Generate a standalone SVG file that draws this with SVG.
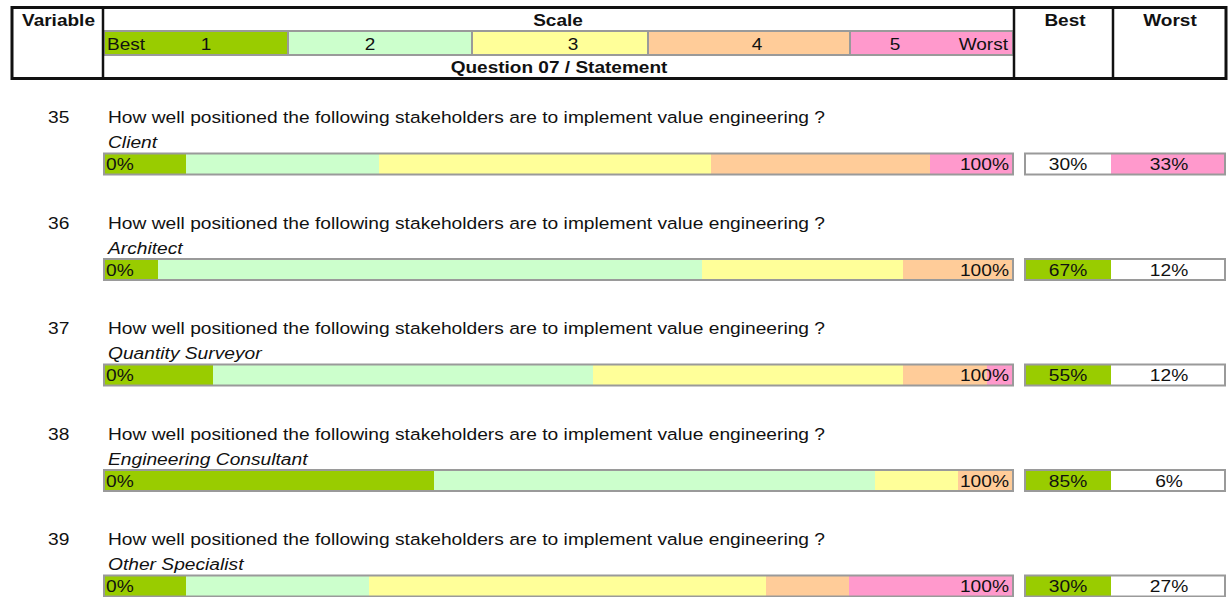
<svg xmlns="http://www.w3.org/2000/svg" width="1228" height="597" viewBox="0 0 1228 597">
  <style>
    .t{font-family:"Liberation Sans",Arial,sans-serif;font-size:17px;fill:#111}
    .b{font-weight:bold}
    .i{font-style:italic}
    .m{text-anchor:middle}
    .e{text-anchor:end}
    .frame{fill:none;stroke:#9a9a9a;stroke-width:2}
    .sep{stroke:#9a9a9a;stroke-width:2}
    .c1{fill:#99cc00}
    .c2{fill:#ccffcc}
    .c3{fill:#ffff99}
    .c4{fill:#ffcc99}
    .c5{fill:#ff99cc}
    .w{fill:#ffffff}
  </style>
  <rect width="1228" height="597" fill="#ffffff"/>

  <!-- header table -->
  <g id="header">
    <rect class="c1" x="103" y="31" width="185" height="24"/>
    <rect class="c2" x="288" y="31" width="184" height="24"/>
    <rect class="c3" x="472" y="31" width="176" height="24"/>
    <rect class="c4" x="648" y="31" width="202" height="24"/>
    <rect class="c5" x="850" y="31" width="164" height="24"/>
    <rect class="frame" x="104" y="31" width="909" height="24"/>
    <line class="sep" x1="288" y1="31" x2="288" y2="55"/>
    <line class="sep" x1="472" y1="31" x2="472" y2="55"/>
    <line class="sep" x1="648" y1="31" x2="648" y2="55"/>
    <line class="sep" x1="850" y1="31" x2="850" y2="55"/>
    <rect x="12" y="7.5" width="1214" height="71" fill="none" stroke="#111" stroke-width="3"/>
    <line x1="103" y1="7" x2="103" y2="79" stroke="#111" stroke-width="2.5"/>
    <line x1="1014" y1="7" x2="1014" y2="79" stroke="#111" stroke-width="2.5"/>
    <line x1="1113" y1="7" x2="1113" y2="79" stroke="#111" stroke-width="2.5"/>
    <text class="t b" transform="translate(22,26) scale(1.12,1)">Variable</text>
    <text class="t b m" transform="translate(558,26) scale(1.12,1)">Scale</text>
    <text class="t b m" transform="translate(559,73) scale(1.12,1)">Question 07 / Statement</text>
    <text class="t b m" transform="translate(1065,26) scale(1.12,1)">Best</text>
    <text class="t b m" transform="translate(1170,26) scale(1.12,1)">Worst</text>
    <text class="t" transform="translate(107,50) scale(1.12,1)">Best</text>
    <text class="t m" transform="translate(206,50) scale(1.12,1)">1</text>
    <text class="t m" transform="translate(370,50) scale(1.12,1)">2</text>
    <text class="t m" transform="translate(573,50) scale(1.12,1)">3</text>
    <text class="t m" transform="translate(757,50) scale(1.12,1)">4</text>
    <text class="t m" transform="translate(895,50) scale(1.12,1)">5</text>
    <text class="t e" transform="translate(1008,50) scale(1.12,1)">Worst</text>
  </g>

  <!-- question 35 -->
  <g id="row35">
    <text class="t" transform="translate(48,123) scale(1.13,1)">35</text>
    <text class="t" transform="translate(108,123) scale(1.13,1)">How well positioned the following stakeholders are to implement value engineering ?</text>
    <text class="t i" transform="translate(108,148) scale(1.13,1)">Client</text>
    <rect class="c1" x="103" y="153.5" width="83" height="21"/>
    <rect class="c2" x="186" y="153.5" width="193" height="21"/>
    <rect class="c3" x="379" y="153.5" width="332" height="21"/>
    <rect class="c4" x="711" y="153.5" width="219" height="21"/>
    <rect class="c5" x="930" y="153.5" width="84" height="21"/>
    <rect class="frame" x="104" y="153.5" width="909" height="21"/>
    <text class="t" transform="translate(106,170) scale(1.13,1)">0%</text>
    <text class="t e" transform="translate(1009,170) scale(1.13,1)">100%</text>
    <rect class="w" x="1025" y="153.5" width="86" height="21"/>
    <rect class="c5" x="1111" y="153.5" width="114" height="21"/>
    <rect class="frame" x="1025" y="153.5" width="200" height="21"/>
    <text class="t m" transform="translate(1068,170) scale(1.13,1)">30%</text>
    <text class="t m" transform="translate(1169,170) scale(1.13,1)">33%</text>
  </g>

  <!-- question 36 -->
  <g id="row36" transform="translate(0,105.5)">
    <text class="t" transform="translate(48,123) scale(1.13,1)">36</text>
    <text class="t" transform="translate(108,123) scale(1.13,1)">How well positioned the following stakeholders are to implement value engineering ?</text>
    <text class="t i" transform="translate(108,148) scale(1.13,1)">Architect</text>
    <rect class="c1" x="103" y="153.5" width="55" height="21"/>
    <rect class="c2" x="158" y="153.5" width="544" height="21"/>
    <rect class="c3" x="702" y="153.5" width="201" height="21"/>
    <rect class="c4" x="903" y="153.5" width="111" height="21"/>
    <rect class="frame" x="104" y="153.5" width="909" height="21"/>
    <text class="t" transform="translate(106,170) scale(1.13,1)">0%</text>
    <text class="t e" transform="translate(1009,170) scale(1.13,1)">100%</text>
    <rect class="c1" x="1025" y="153.5" width="86" height="21"/>
    <rect class="w" x="1111" y="153.5" width="114" height="21"/>
    <rect class="frame" x="1025" y="153.5" width="200" height="21"/>
    <text class="t m" transform="translate(1068,170) scale(1.13,1)">67%</text>
    <text class="t m" transform="translate(1169,170) scale(1.13,1)">12%</text>
  </g>

  <!-- question 37 -->
  <g id="row37" transform="translate(0,211)">
    <text class="t" transform="translate(48,123) scale(1.13,1)">37</text>
    <text class="t" transform="translate(108,123) scale(1.13,1)">How well positioned the following stakeholders are to implement value engineering ?</text>
    <text class="t i" transform="translate(108,148) scale(1.13,1)">Quantity Surveyor</text>
    <rect class="c1" x="103" y="153.5" width="110" height="21"/>
    <rect class="c2" x="213" y="153.5" width="380" height="21"/>
    <rect class="c3" x="593" y="153.5" width="310" height="21"/>
    <rect class="c4" x="903" y="153.5" width="84" height="21"/>
    <rect class="c5" x="987" y="153.5" width="27" height="21"/>
    <rect class="frame" x="104" y="153.5" width="909" height="21"/>
    <text class="t" transform="translate(106,170) scale(1.13,1)">0%</text>
    <text class="t e" transform="translate(1009,170) scale(1.13,1)">100%</text>
    <rect class="c1" x="1025" y="153.5" width="86" height="21"/>
    <rect class="w" x="1111" y="153.5" width="114" height="21"/>
    <rect class="frame" x="1025" y="153.5" width="200" height="21"/>
    <text class="t m" transform="translate(1068,170) scale(1.13,1)">55%</text>
    <text class="t m" transform="translate(1169,170) scale(1.13,1)">12%</text>
  </g>

  <!-- question 38 -->
  <g id="row38" transform="translate(0,316.5)">
    <text class="t" transform="translate(48,123) scale(1.13,1)">38</text>
    <text class="t" transform="translate(108,123) scale(1.13,1)">How well positioned the following stakeholders are to implement value engineering ?</text>
    <text class="t i" transform="translate(108,148) scale(1.13,1)">Engineering Consultant</text>
    <rect class="c1" x="103" y="153.5" width="331" height="21"/>
    <rect class="c2" x="434" y="153.5" width="441" height="21"/>
    <rect class="c3" x="875" y="153.5" width="83" height="21"/>
    <rect class="c4" x="958" y="153.5" width="56" height="21"/>
    <rect class="frame" x="104" y="153.5" width="909" height="21"/>
    <text class="t" transform="translate(106,170) scale(1.13,1)">0%</text>
    <text class="t e" transform="translate(1009,170) scale(1.13,1)">100%</text>
    <rect class="c1" x="1025" y="153.5" width="86" height="21"/>
    <rect class="w" x="1111" y="153.5" width="114" height="21"/>
    <rect class="frame" x="1025" y="153.5" width="200" height="21"/>
    <text class="t m" transform="translate(1068,170) scale(1.13,1)">85%</text>
    <text class="t m" transform="translate(1169,170) scale(1.13,1)">6%</text>
  </g>

  <!-- question 39 -->
  <g id="row39" transform="translate(0,422)">
    <text class="t" transform="translate(48,123) scale(1.13,1)">39</text>
    <text class="t" transform="translate(108,123) scale(1.13,1)">How well positioned the following stakeholders are to implement value engineering ?</text>
    <text class="t i" transform="translate(108,148) scale(1.13,1)">Other Specialist</text>
    <rect class="c1" x="103" y="153.5" width="83" height="21"/>
    <rect class="c2" x="186" y="153.5" width="183" height="21"/>
    <rect class="c3" x="369" y="153.5" width="397" height="21"/>
    <rect class="c4" x="766" y="153.5" width="83" height="21"/>
    <rect class="c5" x="849" y="153.5" width="165" height="21"/>
    <rect class="frame" x="104" y="153.5" width="909" height="21"/>
    <text class="t" transform="translate(106,170) scale(1.13,1)">0%</text>
    <text class="t e" transform="translate(1009,170) scale(1.13,1)">100%</text>
    <rect class="c1" x="1025" y="153.5" width="86" height="21"/>
    <rect class="w" x="1111" y="153.5" width="114" height="21"/>
    <rect class="frame" x="1025" y="153.5" width="200" height="21"/>
    <text class="t m" transform="translate(1068,170) scale(1.13,1)">30%</text>
    <text class="t m" transform="translate(1169,170) scale(1.13,1)">27%</text>
  </g>
</svg>
